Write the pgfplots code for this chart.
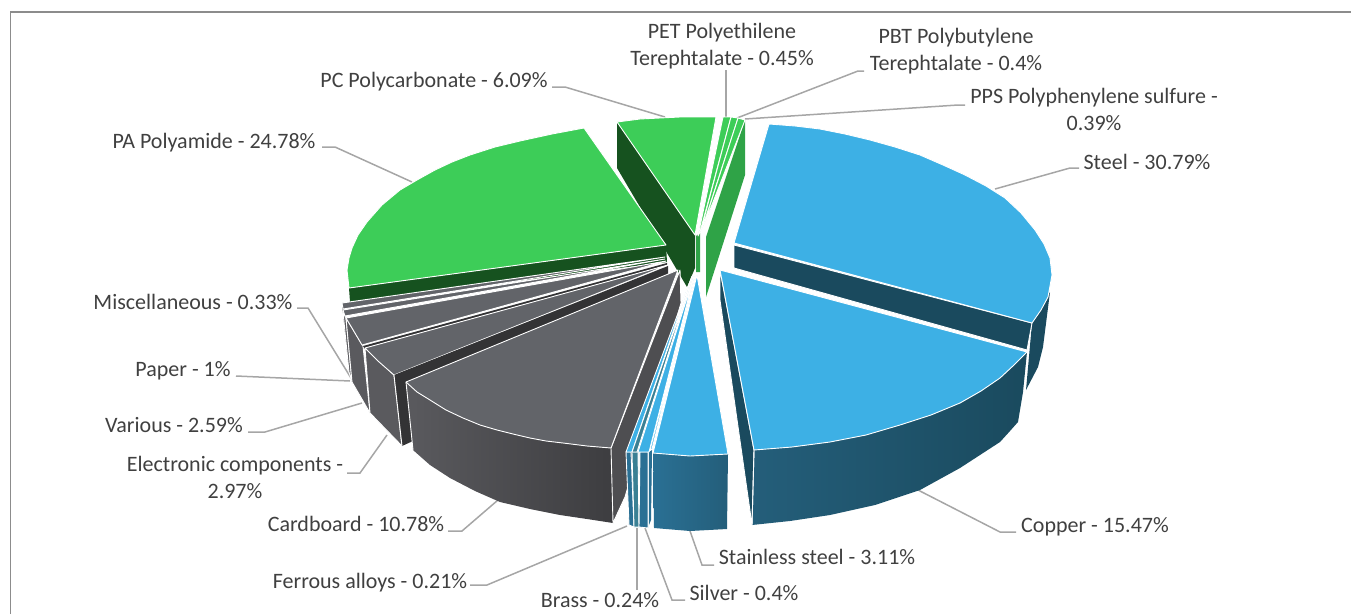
\documentclass[border=0pt]{standalone}
\usepackage{pgfplots}
\pgfplotsset{compat=1.18}
\usepackage{fontspec}
\setmainfont{Carlito}
\definecolor{gA}{HTML}{3DCD58}
\definecolor{gB}{HTML}{16521F}
\definecolor{gC}{HTML}{2FA347}
\definecolor{bA}{HTML}{3DB0E5}
\definecolor{bB}{HTML}{1A4A5E}
\definecolor{bC}{HTML}{2A7094}
\definecolor{bD}{HTML}{245E7A}
\definecolor{bE}{HTML}{3A8094}
\definecolor{kA}{HTML}{626469}
\definecolor{kB}{HTML}{4E4E51}
\definecolor{kC}{HTML}{333335}
\definecolor{kD}{HTML}{5A5A5E}
\definecolor{kE}{HTML}{3D3D40}
\definecolor{ld}{HTML}{A6A6A6}
\definecolor{tx}{HTML}{404040}
\newcommand{\pf}[2]{\addplot[fill=#1,draw=white,line width=0.9pt,line join=round] coordinates {#2} --cycle;}
\newcommand{\pn}[2]{\addplot[fill=#1,draw=none] coordinates {#2} --cycle;}
\newcommand{\lead}[1]{\addplot[ld,line width=1.5pt] coordinates {#1};}
\newcommand{\lab}[3]{\node[#1,text=tx,font=\fontsize{22}{27}\selectfont,inner sep=0pt,align=center] at (axis cs:#2) {#3};}
\begin{document}
\begin{tikzpicture}
\begin{axis}[scale only axis,width=1351pt,height=614pt,xmin=0,xmax=1351,ymin=0,ymax=614,y dir=reverse,hide axis,clip=true,no markers]
\addplot[draw=none,forget plot] coordinates {(0,0) (1351,614)};
% frame
\addplot[color=black!45,line width=1.4pt] coordinates {(10.5,614) (10.5,12) (1351,12)};
% leaders
\lead{(726,70) (726,117)}
\lead{(864,71) (858,71) (737,118)}
\lead{(965,105) (958,105) (745,119)}
\lead{(1079,168) (1070,168) (995,189)}
\lead{(1016,532) (1000,532) (918,490)}
\lead{(714,565) (702,565) (690,531)}
\lead{(685,600) (672,600) (645,528)}
\lead{(637,590) (637,528)}
\lead{(470,585) (487,585) (627,526)}
\lead{(448,531) (462,531) (498,500)}
\lead{(347,473) (360,473) (387,435)}
\lead{(248,432) (265,432) (362,403)}
\lead{(236,376) (350,381)}
\lead{(297,308) (308,308) (351,378)}
\lead{(322,147) (335,147) (412,182)}
\lead{(552,87) (565,87) (665,117)}
% PC side and top
\pn{gB}{(617,122) (695,235) (695,268) (687,287) (617,168)}
\pn{gC}{(696,236) (700,233) (700,272) (696,272)}
\pn{gC}{(745,120) (745,175) (706,297) (706,237)}
% thin greens
\pf{gA}{(698,236) (723,117) (731,117) (700,232)}
\pf{gA}{(701,230) (731,117) (738,118) (703,226)}
\pf{gA}{(704,224) (738,118) (745,120) (706,220)}
\pf{gA}{(617,122) (640,119) (680,117) (716,117) (695,235)}
% PA
\pn{gB}{(666,245) (349,288) (350,302) (667,262)}
\pf{gA}{(666,245) (349,288) (347,270) (349,258) (352,248) (358,235) (367,222) (382,205) (400,190) (417,180) (435,170) (452,162) (470,155) (495,147) (520,141) (552,134) (584,128)}
% gray back slices
\pn{kC}{(342,304) (346,318) (352,382) (348,360)}
\pf{kD}{(343,312) (346,318) (352,382) (349,372)}
\pf{kD}{(346,318) (363,346) (370,413) (352,382)}
\pf{kD}{(365,348) (394,375) (402,446) (370,413)}
\pf{kA}{(665,257) (342,303) (343,309)}
\pf{kA}{(665,259) (343,310) (345,316)}
\pf{kA}{(666,261) (346,318) (352,328) (362,345)}
\pn{kC}{(667,263) (363,346) (365,349) (667,265)}
\pf{kA}{(668,265) (365,348) (378,361) (394,375)}
% Electronic dark band & wall
\pn{kC}{(668,266) (394,375) (402,446) (413,441) (406,382) (668,276)}
\addplot[draw=white,line width=0.9pt] coordinates {(394,375) (402,446)};
% Cardboard
\addplot[draw=none,left color=kD,right color=kE] coordinates {(406,382) (417,392) (430,400) (446,410) (463,418) (480,425) (497,430) (513,434) (530,438) (546,441) (563,443) (587,446) (611,448) (613,523) (587,519) (560,515) (530,509) (500,502) (475,491) (450,478) (430,465) (413,450)} --cycle;
\pf{kB}{(680,270) (681,303) (625,497) (613,523) (611,448)}
\pf{kA}{(678,270) (406,382) (417,392) (430,400) (446,410) (463,418) (480,425) (497,430) (513,434) (530,438) (546,441) (563,443) (587,446) (611,448)}
\addplot[draw=white,line width=0.9pt] coordinates {(406,382) (413,450)};
% Blue thin slices
\pf{bC}{(626,452) (631,452) (634,527) (629,525)}
\pf{bE}{(632,452) (638,452) (639,527) (634,527)}
\pf{bC}{(640,452) (648,452) (648,528) (639,527)}
\pn{bC}{(649,452) (652,450) (651,520) (649,525)}
\pf{bA}{(692,276) (626,452) (632,452)}
\pf{bE}{(693,276) (632,452) (637,452)}
\pf{bA}{(694,276) (638,452) (649,452)}
\pf{bA}{(695,276) (650,450) (652,449)}
% Stainless steel
\addplot[draw=none,left color=bC,right color=bD] coordinates {(653,453) (690,456) (728,454) (727,529) (690,531) (654,528)} --cycle;
\pf{bA}{(697,275) (653,453) (690,456) (728,454)}
% Steel
\pn{bB}{(1050,292) (1043,347) (1038,367) (1026,390) (1032,323)}
\pf{bB}{(734,245) (1032,323) (1027,350) (734,268)}
\pf{bA}{(734,243) (769,124) (795,126) (820,129) (845,134) (870,140) (895,147) (920,155) (943,165) (965,175) (986,186) (1005,198) (1021,213) (1035,230) (1044,244) (1050,258) (1052,275) (1048,297) (1041,310) (1032,323)}
% Copper
\addplot[draw=none,left color=bD,right color=bB] coordinates {(754,450) (792,447) (830,442) (866,435) (900,425) (931,415) (960,403) (981,391) (1000,378) (1014,365) (1027,352) (1023,392) (1018,422) (1010,431) (1000,442) (960,468) (920,490) (875,505) (830,515) (790,521) (752,525)} --cycle;
\pf{bB}{(720,270) (754,450) (752,525) (720,300)}
\pf{bA}{(720,270) (1027,352) (1014,365) (1000,378) (981,391) (960,403) (931,415) (900,425) (866,435) (830,442) (792,447) (754,450)}
\addplot[draw=white,line width=0.9pt] coordinates {(754,450) (752,525)};
% Labels (baseline anchored)
\lab{anchor=base}{722,38}{PET Polyethilene}
\lab{anchor=base}{722,65}{Terephtalate - 0.45\%}
\lab{anchor=base}{956,43}{PBT Polybutylene}
\lab{anchor=base}{956,70}{Terephtalate - 0.4\%}
\lab{anchor=base}{1094,103}{PPS Polyphenylene sulfure -}
\lab{anchor=base}{1094,130}{0.39\%}
\lab{anchor=base}{1147,169}{Steel - 30.79\%}
\lab{anchor=base}{1095,532}{Copper - 15.47\%}
\lab{anchor=base}{817,564}{Stainless steel - 3.11\%}
\lab{anchor=base}{744,600}{Silver - 0.4\%}
\lab{anchor=base}{600,607}{Brass - 0.24\%}
\lab{anchor=base}{370,588}{Ferrous alloys - 0.21\%}
\lab{anchor=base}{356,531}{Cardboard - 10.78\%}
\lab{anchor=base}{235,471}{Electronic components -}
\lab{anchor=base}{235,498}{2.97\%}
\lab{anchor=base}{174,432}{Various - 2.59\%}
\lab{anchor=base}{183,376}{Paper - 1\%}
\lab{anchor=base}{193,309}{Miscellaneous - 0.33\%}
\lab{anchor=base}{214,148}{PA Polyamide - 24.78\%}
\lab{anchor=base}{434,87}{PC Polycarbonate - 6.09\%}
\end{axis}
\end{tikzpicture}
\end{document}
